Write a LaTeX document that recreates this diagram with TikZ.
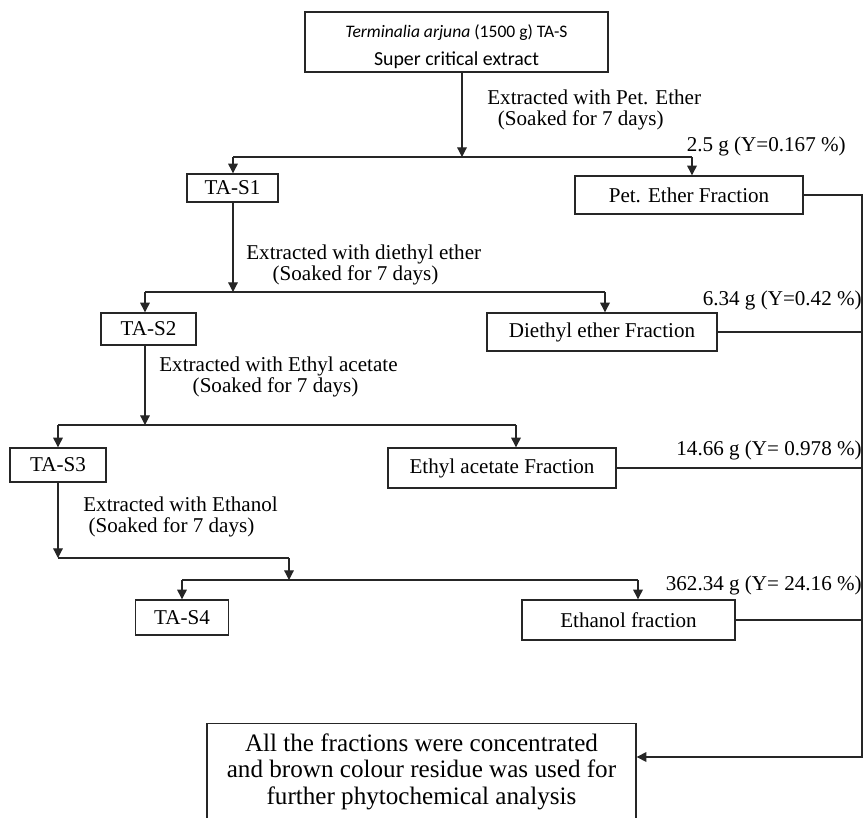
\documentclass[tikz,border=0pt]{standalone}
\usepackage{fontspec}
\setmainfont{Liberation Serif}
\newfontfamily\calibri{Carlito}
\usetikzlibrary{arrows.meta}

\begin{document}
\begin{tikzpicture}[x=0.02cm,y=-0.02cm,
    box/.style={draw=black!85,line width=0.8pt,inner sep=0pt,font=\fontsize{12}{13}\selectfont},
    lbl/.style={inner sep=0pt,align=left,font=\fontsize{12}{11.5}\selectfont},
    yld/.style={inner sep=0pt,anchor=east,font=\fontsize{12}{13}\selectfont},
    arr/.style={-{Triangle[width=5.5pt,length=5.5pt]},line width=0.7pt,draw=black!85},
    ln/.style={line width=0.7pt,draw=black!85}]
    % Page (pixel units, y downwards)
    \clip (0,0) rectangle (863,818);

    % Constants
    \def\xr{862} % collecting line on the right

    % Draw boxes
    \node[box,minimum width=6.06cm,minimum height=1.2cm,align=center,font=\calibri] (top) at (456.5,42)
        {\rule{0pt}{13pt}{\fontsize{10}{11}\selectfont\itshape Terminalia arjuna}{\fontsize{10}{11}\selectfont\ (1500 g) TA-S}\\[4pt]
         {\fontsize{11.3}{13}\selectfont Super critical extract}};
    \node[box,minimum width=1.82cm,minimum height=0.56cm] (s1) at (232.5,188) {TA-S1};
    \node[box,minimum width=4.56cm,minimum height=0.76cm] (pe) at (689,195) {Pet. Ether Fraction};
    \node[box,minimum width=1.9cm,minimum height=0.64cm] (s2) at (148.5,329) {TA-S2};
    \node[box,minimum width=4.6cm,minimum height=0.76cm] (de) at (602,332) {Diethyl ether Fraction};
    \node[box,minimum width=1.92cm,minimum height=0.68cm] (s3) at (58,465) {TA-S3};
    \node[box,minimum width=4.56cm,minimum height=0.8cm] (ea) at (502,468) {Ethyl acetate Fraction};
    \node[box,minimum width=1.86cm,minimum height=0.7cm] (s4) at (182,617.5) {TA-S4};
    \node[box,minimum width=4.26cm,minimum height=0.8cm] (eth) at (628.5,620) {Ethanol fraction};
    \node[box,minimum width=8.58cm,inner ysep=5.5pt,align=center,anchor=north,
          font=\fontsize{14.3}{15.3}\selectfont] (final) at (421.5,723)
        {All the fractions were concentrated\\and brown colour residue was used for\\further phytochemical analysis\rule[-30pt]{0pt}{0pt}};

    % Solvent labels
    \node[lbl,anchor=west] (l1) at (487,110) {Extracted with Pet. Ether\\\hspace*{6pt}(Soaked for 7 days)};
    \node[lbl,anchor=west] (l2) at (246,265) {Extracted with diethyl ether\\\hspace*{15pt}(Soaked for 7 days)};
    \node[lbl,anchor=west] (l3) at (159,377) {Extracted with Ethyl acetate\\\hspace*{19pt}(Soaked for 7 days)};
    \node[lbl,anchor=west] (l4) at (83,517) {Extracted with Ethanol\\\hspace*{3pt}(Soaked for 7 days)};

    % Yields
    \node[yld] (y1) at (846,146) {2.5 g (Y=0.167 \%)};
    \node[yld] (y2) at (862,300) {6.34 g (Y=0.42 \%)};
    \node[yld] (y3) at (862,450) {14.66 g (Y= 0.978 \%)};
    \node[yld] (y4) at (862,585) {362.34 g (Y= 24.16 \%)};

    % Junctions
    \coordinate (j1) at (462,157); \coordinate (j1l) at (233,157); \coordinate (j1r) at (692,157);
    \coordinate (j2) at (233,292); \coordinate (j2l) at (145,292); \coordinate (j2r) at (605,292);
    \coordinate (j3) at (145,425); \coordinate (j3l) at (58,425);  \coordinate (j3r) at (516,425);
    \coordinate (j4) at (58,558);  \coordinate (j4r) at (289,558);
    \coordinate (j5) at (289,580); \coordinate (j5l) at (182,580); \coordinate (j5r) at (638,580);
    \coordinate (rb) at (\xr,757);

    % Pet. ether step
    \draw[arr] (top.south -| j1) -- (j1);
    \draw[ln] (j1l) -- (j1r);
    \draw[arr] (j1l) -- (s1.north -| j1l);
    \draw[arr] (j1r) -- (pe.north -| j1r);

    % Diethyl ether step
    \draw[arr] (s1.south -| j2) -- (j2);
    \draw[ln] (j2l) -- (j2r);
    \draw[arr] (j2l) -- (s2.north -| j2l);
    \draw[arr] (j2r) -- (de.north -| j2r);

    % Ethyl acetate step
    \draw[arr] (s2.south -| j3) -- (j3);
    \draw[ln] (j3l) -- (j3r);
    \draw[arr] (j3l) -- (s3.north -| j3l);
    \draw[arr] (j3r) -- (ea.north -| j3r);

    % Ethanol step
    \draw[arr] (s3.south -| j4) -- (j4);
    \draw[ln] (j4) -- (j4r);
    \draw[arr] (j4r) -- (j5);
    \draw[ln] (j5l) -- (j5r);
    \draw[arr] (j5l) -- (s4.north -| j5l);
    \draw[arr] (j5r) -- (eth.north -| j5r);

    % Collect the fractions
    \draw[ln] (de.east) -- (de.east -| rb);
    \draw[ln] (ea.east) -- (ea.east -| rb);
    \draw[ln] (eth.east) -- (eth.east -| rb);
    \draw[arr] (pe.east) -- (pe.east -| rb) -- (rb) -- (final.east |- rb);
\end{tikzpicture}
\end{document}
